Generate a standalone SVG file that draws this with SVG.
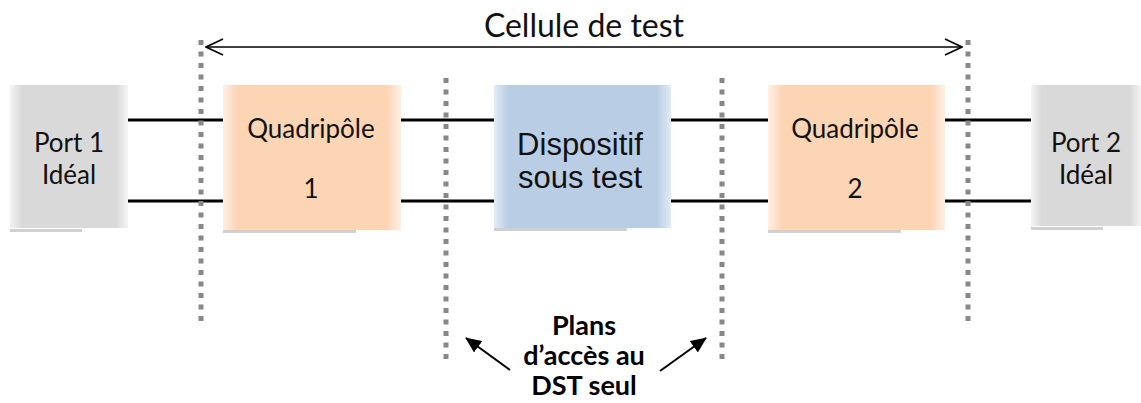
<svg xmlns="http://www.w3.org/2000/svg" width="1141" height="403" viewBox="0 0 1141 403">
  <defs>
    <linearGradient id="gGrey" x1="0" y1="0" x2="1" y2="0">
      <stop offset="0" stop-color="#f4f4f4"/>
      <stop offset="0.1" stop-color="#d9d9d9"/>
      <stop offset="0.9" stop-color="#d9d9d9"/>
      <stop offset="1" stop-color="#f4f4f4"/>
    </linearGradient>
    <linearGradient id="gOrange" x1="0" y1="0" x2="1" y2="0">
      <stop offset="0" stop-color="#fef0e4"/>
      <stop offset="0.08" stop-color="#fcd5b5"/>
      <stop offset="0.92" stop-color="#fcd5b5"/>
      <stop offset="1" stop-color="#fef0e4"/>
    </linearGradient>
    <linearGradient id="gBlue" x1="0" y1="0" x2="1" y2="0">
      <stop offset="0" stop-color="#e3ebf5"/>
      <stop offset="0.08" stop-color="#b9cde5"/>
      <stop offset="0.92" stop-color="#b9cde5"/>
      <stop offset="1" stop-color="#e3ebf5"/>
    </linearGradient>
    <marker id="openHead" viewBox="0 0 20 20" refX="19" refY="10" markerWidth="20" markerHeight="20" markerUnits="userSpaceOnUse" orient="auto-start-reverse">
      <path d="M2,2 L19,10 L2,18" fill="none" stroke="#000" stroke-width="1.6"/>
    </marker>
    <marker id="solidHead" viewBox="0 0 16 14" refX="15" refY="7" markerWidth="16" markerHeight="14" markerUnits="userSpaceOnUse" orient="auto">
      <path d="M0,0 L16,7 L0,14 Z" fill="#000"/>
    </marker>
    <style>
      .wire { stroke: #000; stroke-width: 3; }
      .plane { stroke: #888; stroke-width: 5; stroke-dasharray: 5 6.5; }
      .lbl { font-family: Lato, "Open Sans", sans-serif; font-size: 26px; fill: #111; text-anchor: middle; }
      .dut { font-family: "Liberation Sans", Arial, sans-serif; font-size: 31px; fill: #111; text-anchor: middle; }
      .title { font-family: Lato, "Open Sans", sans-serif; font-size: 32px; fill: #111; text-anchor: middle; }
      .note { font-family: Lato, "Open Sans", sans-serif; font-size: 27px; font-weight: bold; fill: #000; text-anchor: middle; }
      .shadow { fill: #d0d0d0; }
    </style>
  </defs>

  <rect width="1141" height="403" fill="#fff"/>

  <!-- wires and reference planes -->
  <g id="connectors">
    <line class="wire" x1="128" y1="120" x2="1031" y2="120"/>
    <line class="wire" x1="128" y1="201" x2="1031" y2="201"/>
    <line class="plane" x1="201" y1="40" x2="201" y2="326"/>
    <line class="plane" x1="968" y1="40" x2="968" y2="326"/>
    <line class="plane" x1="446" y1="78" x2="446" y2="362"/>
    <line class="plane" x1="722" y1="78" x2="722" y2="362"/>
    <line x1="206" y1="47" x2="962" y2="47" stroke="#000" stroke-width="1.6" marker-start="url(#openHead)" marker-end="url(#openHead)"/>
    <line x1="510" y1="370" x2="466" y2="338" stroke="#000" stroke-width="2" marker-end="url(#solidHead)"/>
    <line x1="660" y1="371" x2="706" y2="338" stroke="#000" stroke-width="2" marker-end="url(#solidHead)"/>
  </g>

  <g id="port1">
    <rect class="shadow" x="10" y="229" width="72" height="3"/>
    <rect x="10" y="85" width="118" height="143" fill="url(#gGrey)"/>
    <text class="lbl" x="69" y="152">Port 1</text>
    <text class="lbl" x="69" y="184">Idéal</text>
  </g>

  <g id="quad1">
    <rect class="shadow" x="223" y="230" width="133" height="3"/>
    <rect x="223" y="85" width="178" height="145" fill="url(#gOrange)"/>
    <text class="lbl" x="311" y="138">Quadripôle</text>
    <text class="lbl" x="311" y="198">1</text>
  </g>

  <g id="dut">
    <rect class="shadow" x="494" y="228" width="133" height="3"/>
    <rect x="494" y="85" width="177" height="143" fill="url(#gBlue)"/>
    <text class="dut" x="580" y="155">Dispositif</text>
    <text class="dut" x="580" y="188">sous test</text>
  </g>

  <g id="quad2">
    <rect class="shadow" x="768" y="230" width="133" height="3"/>
    <rect x="768" y="85" width="177" height="145" fill="url(#gOrange)"/>
    <text class="lbl" x="855" y="138">Quadripôle</text>
    <text class="lbl" x="855" y="198">2</text>
  </g>

  <g id="port2">
    <rect class="shadow" x="1031" y="227" width="72" height="3"/>
    <rect x="1031" y="85" width="110" height="141" fill="url(#gGrey)"/>
    <text class="lbl" x="1086" y="152">Port 2</text>
    <text class="lbl" x="1086" y="184">Idéal</text>
  </g>

  <g id="labels">
    <text class="title" x="584" y="37">Cellule de test</text>
    <text class="note" x="584" y="335">Plans</text>
    <text class="note" x="584" y="365">d’accès au</text>
    <text class="note" x="584" y="395">DST seul</text>
  </g>
</svg>
